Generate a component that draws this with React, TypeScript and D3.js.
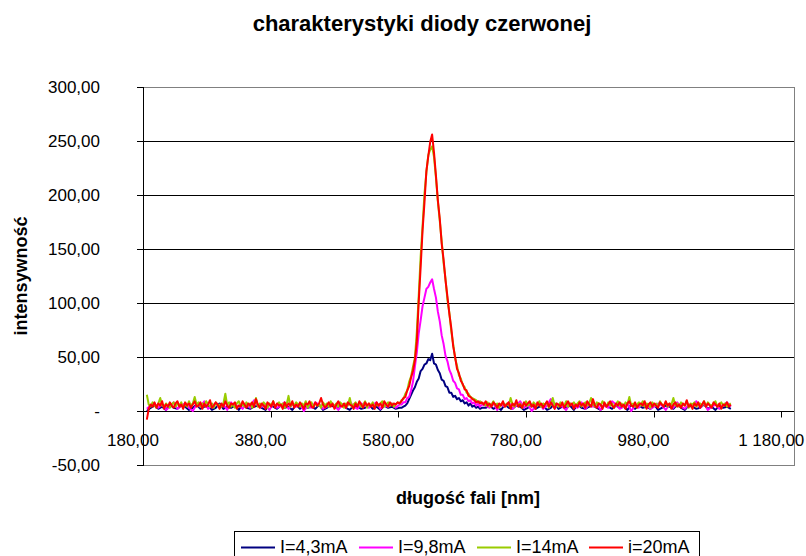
import { useEffect, useRef } from "react";
import * as d3 from "d3";

// coarse wavelength grid [nm] for the two lower currents: baseline every 6 nm, peak every 3 nm
const wavelengthCoarse = [
  186, 192, 198, 204, 210, 216, 222, 228, 234, 240,
  246, 252, 258, 264, 270, 276, 282, 288, 294, 300,
  306, 312, 318, 324, 330, 336, 342, 348, 354, 360,
  366, 372, 378, 384, 390, 396, 402, 408, 414, 420,
  426, 432, 438, 444, 450, 456, 462, 468, 474, 480,
  486, 492, 498, 504, 510, 516, 522, 528, 534, 540,
  546, 552, 558, 564, 570, 576, 582,
  585, 588, 591, 594, 597, 600, 603, 606, 609, 612,
  615, 618, 621, 624, 627, 630, 633, 636, 639, 642,
  645, 648, 651, 654, 657, 660, 663, 666, 669, 672,
  675, 678, 681, 684, 687, 690, 693, 696, 699, 702,
  705, 708, 711,
  717, 723, 729, 735, 741, 747, 753, 759, 765, 771,
  777, 783, 789, 795, 801, 807, 813, 819, 825, 831,
  837, 843, 849, 855, 861, 867, 873, 879, 885, 891,
  897, 903, 909, 915, 921, 927, 933, 939, 945, 951,
  957, 963, 969, 975, 981, 987, 993, 999, 1005, 1011,
  1017, 1023, 1029, 1035, 1041, 1047, 1053, 1059, 1065, 1071,
  1077, 1083, 1089, 1095, 1101,
];

// fine grid for the two higher currents: a reading every 3 nm from 186 to 1101
const wavelengthFine = d3.range(186, 1102, 3);

const intensity43 = [
  0, 3, 5, 2, 4, 1, 6, 3, 2, 5,
  4, 1, 3, 6, 2, 4, 5, 1, 3, 7,
  2, 4, 3, 5, 1, 6, 3, 2, 4, 5,
  3, 1, 6, 4, 2, 5, 3, 4, 1, 6,
  2, 5, 3, 4, 2, 6, 1, 3, 5, 4,
  2, 6, 3, 1, 5, 4, 2, 3, 6, 2,
  4, 1, 5, 3, 4, 2, 3,
  3, 4, 5, 7, 11, 15, 19, 22, 27, 30,
  37, 39, 43, 44, 48, 47, 53, 44, 43, 38,
  35, 29, 28, 23, 22, 17, 17, 13, 14, 11,
  12, 9, 10, 7, 8, 5, 7, 4, 5, 3,
  4, 2, 3,
  3, 5, 2, 4, 1, 6, 3, 2, 5, 4,
  1, 3, 6, 2, 4, 5, 1, 3, 7, 2,
  4, 3, 5, 1, 6, 3, 2, 4, 5, 3,
  1, 6, 4, 2, 5, 3, 4, 1, 6, 2,
  5, 3, 4, 2, 6, 1, 3, 5, 4, 2,
  6, 3, 1, 5, 4, 2, 3, 6, 2, 4,
  1, 5, 3, 4, 2,
];

const intensity98 = [
  2, 5, 7, 3, 6, 1, 4, 8, 2, 5,
  7, 3, 0, 6, 4, 9, 2, 5, 7, 3,
  6, 1, 8, 4, 5, 2, 7, 3, 10, 5,
  4, 6, 1, 7, 3, 5, 8, 2, 6, 4,
  7, 0, 5, 3, 8, 6, 2, 4, 7, 5,
  1, 6, 3, 9, 4, 2, 7, 5, 3, 6,
  8, 2, 5, 4, 7, 3, 6,
  6, 8, 8, 12, 13, 19, 27, 41, 54, 72,
  84, 97, 105, 113, 115, 119, 122, 113, 105, 92,
  83, 70, 62, 51, 46, 38, 34, 28, 26, 21,
  20, 15, 15, 11, 12, 9, 10, 7, 8, 5,
  7, 4, 6,
  5, 3, 7, 1, 6, 4, 8, 2, 5, 9,
  3, 6, 0, 4, 7, 2, 5, 11, 3, 6,
  4, 1, 7, 5, 3, 8, 2, 6, 4, 7,
  1, 5, 3, 9, 6, 2, 4, 7, 0, 5,
  3, 8, 6, 2, 4, 7, 5, 1, 6, 3,
  8, 4, 2, 6, 5, 9, 3, 7, 1, 4,
  6, 2, 5, 8, 4,
];

const intensity14 = [
  15, 6, 4, 8, 5, 3, 7, 12, 5, 4,
  7, 5, 3, 6, 8, 4, 7, 5, 8, 3,
  6, 4, 9, 5, 7, 13, 6, 8, 4, 7,
  5, 9, 6, 4, 7, 3, 8, 5, 6, 4,
  7, 16, 5, 8, 4, 6, 3, 7, 9, 5,
  6, 4, 8, 5, 7, 3, 6, 12, 4, 7,
  5, 8, 6, 3, 7, 5, 9, 4, 6, 8,
  5, 7, 3, 6, 14, 4, 7, 5, 8, 6,
  4, 7, 5, 9, 3, 6, 8, 4, 7, 5,
  6, 3, 8, 5, 7, 4, 9, 6, 5, 7,
  4, 8, 6, 3, 7, 5, 12, 4, 6, 8,
  5, 7, 4, 6, 9, 3, 7, 5, 8, 4,
  6, 5, 7, 9, 4, 6, 8, 5, 7, 4,
  6, 8, 7,
  10, 11, 16, 19, 27, 32, 41, 49, 73, 107,
  143, 171, 201, 221, 237, 242, 245, 235, 216, 194,
  176, 157, 137, 122, 103, 91, 74, 62, 49, 42,
  33, 30, 24, 22, 17, 16, 13, 12, 11, 10,
  8, 9, 7,
  7, 5, 8, 4, 6, 9, 5, 7, 3, 6,
  8, 4, 7, 5, 12, 6, 4, 8, 5, 7,
  3, 6, 9, 5, 7, 4, 8, 6, 5, 9,
  4, 7, 6, 8, 3, 6, 12, 5, 7, 4,
  8, 6, 5, 9, 4, 7, 6, 8, 5, 7,
  9, 4, 6, 8, 5, 7, 12, 6, 4, 8,
  7, 5, 9, 6, 4, 8, 5, 7, 3, 6,
  9, 5, 7, 4, 8, 6, 13, 5, 7, 4,
  6, 8, 5, 9, 4, 7, 6, 3, 8, 5,
  7, 4, 9, 6, 5, 8, 4, 7, 6, 12,
  5, 7, 4, 8, 6, 5, 9, 3, 7, 6,
  8, 4, 6, 7, 5, 9, 4, 8, 6, 5,
  7, 9, 4, 6, 8, 5, 7, 4, 6, 7,
];

const intensity20 = [
  -8, 2, 6, 4, 8, 3, 7, 5, 9, 2,
  6, 4, 8, 5, 3, 7, 9, 4, 6, 2,
  8, 5, 7, 3, 6, 9, 4, 5, 8, 2,
  7, 4, 6, 10, 3, 5, 8, 6, 2, 7,
  4, 9, 5, 3, 7, 6, 8, 2, 5, 4,
  9, 6, 3, 7, 5, 8, 4, 11, 6, 3,
  7, 5, 2, 8, 6, 4, 9, 3, 7, 5,
  6, 2, 8, 4, 7, 5, 9, 3, 6, 4,
  8, 5, 2, 7, 6, 9, 4, 3, 8, 5,
  7, 12, 6, 3, 5, 8, 4, 7, 2, 6,
  9, 5, 4, 7, 3, 8, 6, 5, 2, 7,
  4, 9, 6, 3, 8, 5, 7, 4, 6, 2,
  8, 5, 7, 3, 9, 6, 4, 8, 5, 7,
  6, 8, 7,
  9, 12, 13, 19, 23, 31, 37, 47, 64, 101,
  133, 167, 193, 222, 236, 249, 256, 239, 218, 195,
  178, 155, 140, 121, 106, 90, 77, 60, 50, 39,
  35, 28, 25, 20, 19, 14, 13, 11, 10, 8,
  9, 7, 8,
  6, 9, 5, 7, 4, 8, 6, 3, 7, 5,
  9, 4, 6, 8, 2, 7, 5, 10, 4, 6,
  3, 8, 5, 7, 9, 4, 6, 2, 8, 5,
  7, 3, 6, 9, 4, 8, 5, 2, 7, 6,
  4, 8, 3, 6, 9, 5, 7, 2, 6, 4,
  8, 5, 7, 3, 9, 6, 4, 11, 5, 3,
  7, 6, 2, 8, 4, 6, 9, 5, 3, 7,
  5, 8, 4, 6, 2, 7, 9, 5, 4, 8,
  3, 6, 7, 5, 9, 2, 6, 8, 4, 7,
  5, 3, 8, 6, 4, 9, 5, 7, 2, 6,
  8, 4, 6, 3, 7, 5, 10, 4, 6, 2,
  7, 5, 8, 3, 6, 9, 4, 7, 5, 3,
  8, 6, 4, 7, 2, 6, 5, 8, 4, 6,
];

const seriesNames = ["I=4,3mA", "I=9,8mA", "I=14mA", "i=20mA"];
const seriesValues = [intensity43, intensity98, intensity14, intensity20];
const seriesGrids = [wavelengthCoarse, wavelengthCoarse, wavelengthFine, wavelengthFine];
const seriesColors = ["#000080", "#FF00FF", "#99CC00", "#FF0000"];
const xTicks = [180, 380, 580, 780, 980, 1180];
const yTicks = [-50, 0, 50, 100, 150, 200, 250, 300];

const App = () => {
  const svgRef = useRef(null);

  useEffect(() => {
    const svg = d3.select(svgRef.current);
    svg.selectAll("*").remove();

    const font = "'Liberation Sans', Arial, sans-serif";
    const plot = { left: 143, right: 794, top: 87, bottom: 465 };
    const x = d3.scaleLinear([180, 1200], [plot.left, plot.right]);
    const y = d3.scaleLinear([-50, 300], [plot.bottom, plot.top]);
    const crisp = (v) => Math.round(v) + 0.5;

    const locale = d3.formatLocale({ decimal: ",", thousands: " ", grouping: [3], currency: ["", ""], minus: "-" });
    const fmt = locale.format(",.2f");

    svg.append("rect").attr("width", 806).attr("height", 556).attr("fill", "#fff");

    // title
    svg.append("text")
      .attr("x", 422)
      .attr("y", 31)
      .attr("text-anchor", "middle")
      .style("font-family", font)
      .style("font-size", "22px")
      .style("font-weight", "bold")
      .text("charakterystyki diody czerwonej");

    // gridlines
    svg.append("g")
      .selectAll("line")
      .data(yTicks.filter((v) => v > 0 && v < 300))
      .join("line")
      .attr("x1", plot.left)
      .attr("x2", plot.right)
      .attr("y1", (d) => crisp(y(d)))
      .attr("y2", (d) => crisp(y(d)))
      .attr("stroke", "#000")
      .attr("stroke-width", 1);

    // plot area border
    svg.append("rect")
      .attr("x", crisp(plot.left))
      .attr("y", crisp(plot.top))
      .attr("width", Math.round(plot.right - plot.left))
      .attr("height", Math.round(plot.bottom - plot.top))
      .attr("fill", "none")
      .attr("stroke", "#808080");

    // y axis
    const yAxis = svg.append("g");
    yAxis.append("line")
      .attr("x1", crisp(plot.left)).attr("x2", crisp(plot.left))
      .attr("y1", plot.top).attr("y2", plot.bottom + 1)
      .attr("stroke", "#000");
    yAxis.selectAll(".tick")
      .data(yTicks)
      .join("line")
      .attr("x1", plot.left - 6).attr("x2", plot.left)
      .attr("y1", (d) => crisp(y(d))).attr("y2", (d) => crisp(y(d)))
      .attr("stroke", "#000");
    yAxis.selectAll("text")
      .data(yTicks)
      .join("text")
      .attr("x", 100)
      .attr("y", (d) => y(d))
      .attr("dy", "0.35em")
      .attr("text-anchor", "end")
      .style("font-family", font)
      .style("font-size", "17px")
      .text((d) => (d === 0 ? "-" : fmt(d)));

    // x axis on y = 0
    const x0 = crisp(y(0));
    const xAxis = svg.append("g");
    xAxis.append("line")
      .attr("x1", plot.left).attr("x2", plot.right)
      .attr("y1", x0).attr("y2", x0)
      .attr("stroke", "#000");
    xAxis.selectAll(".tick")
      .data(xTicks)
      .join("line")
      .attr("x1", (d) => crisp(x(d))).attr("x2", (d) => crisp(x(d)))
      .attr("y1", x0).attr("y2", x0 + 6)
      .attr("stroke", "#000");
    xAxis.selectAll("text")
      .data(xTicks)
      .join("text")
      .attr("x", (d) => x(d) - 10)
      .attr("y", 446)
      .attr("text-anchor", "middle")
      .style("font-family", font)
      .style("font-size", "17px")
      .text((d) => fmt(d));

    // series
    const line = d3.line()
      .x((d) => x(d[0]))
      .y((d) => y(d[1]));

    const seriesData = seriesValues.map((vals, s) =>
      seriesGrids[s].map((w, i) => [w, vals[i]]).filter((d) => d[1] !== undefined)
    );

    svg.append("g")
      .selectAll("path")
      .data(seriesData)
      .join("path")
      .attr("d", line)
      .attr("fill", "none")
      .attr("stroke", (d, i) => seriesColors[i])
      .attr("stroke-width", 2)
      .attr("stroke-linejoin", "round");

    // axis titles
    svg.append("text")
      .attr("transform", "translate(27,276) rotate(-90)")
      .attr("text-anchor", "middle")
      .style("font-family", font)
      .style("font-size", "18px")
      .style("font-weight", "bold")
      .text("intensywność");

    svg.append("text")
      .attr("x", 468)
      .attr("y", 504)
      .attr("text-anchor", "middle")
      .style("font-family", font)
      .style("font-size", "18px")
      .style("font-weight", "bold")
      .text("długość fali [nm]");

    // legend
    const legendX = [241, 359, 477, 589];
    svg.append("rect")
      .attr("x", 234.5)
      .attr("y", 531.5)
      .attr("width", 465)
      .attr("height", 40)
      .attr("fill", "#fff")
      .attr("stroke", "#000");

    const items = svg.append("g")
      .selectAll("g")
      .data(seriesNames)
      .join("g")
      .attr("transform", (d, i) => `translate(${legendX[i]}, 547)`);
    items.append("line")
      .attr("x1", 0).attr("x2", 34)
      .attr("y1", 0.5).attr("y2", 0.5)
      .attr("stroke", (d, i) => seriesColors[i])
      .attr("stroke-width", 2);
    items.append("text")
      .attr("x", 39)
      .attr("y", 6)
      .style("font-family", font)
      .style("font-size", "18px")
      .text((d) => d);
  }, []);

  return <svg ref={svgRef} width={806} height={556} style={{ position: "absolute", left: 0, top: 0 }}></svg>;
};

export default App;
